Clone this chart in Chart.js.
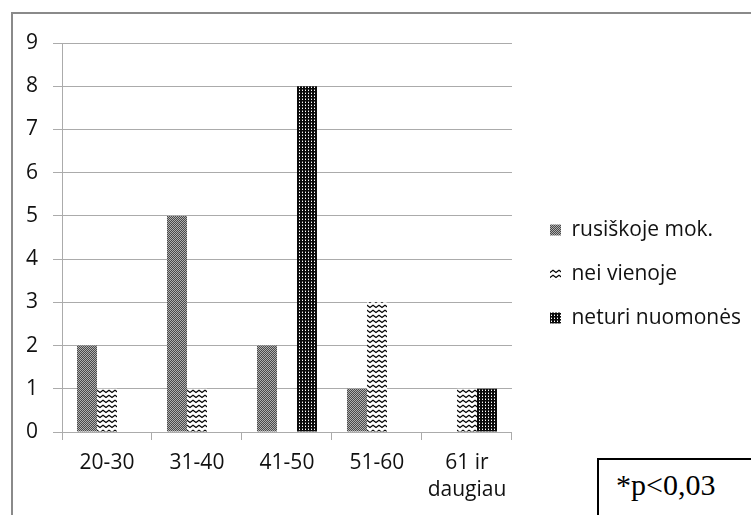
<!DOCTYPE html>
<html>
<head>
<meta charset="utf-8">
<script src="https://cdn.jsdelivr.net/npm/chart.js@4"></script>
<style>
    html, body { margin: 0; padding: 0; background: #fff; overflow: hidden; }
    body { width: 751px; height: 515px; position: relative; }
    #frame {
        position: absolute; left: 11px; top: 12px;
        width: 760px; height: 540px;
        border-left: 2px solid #8a8a8a; border-top: 2px solid #8a8a8a;
    }
    #chart { position: absolute; left: 0; top: 0; }
    #pbox {
        position: absolute; left: 597px; top: 458px;
        width: 200px; height: 100px;
        border: 2px solid #000; background: #fff;
    }
    #pbox span {
        position: absolute; left: 17px; top: 10px;
        font-family: "Liberation Serif", serif; font-size: 30px; line-height: 30px;
        color: #000; white-space: nowrap;
    }
</style>
</head>
<body>
<div id="frame"><canvas id="chart" width="738" height="520"></canvas></div>
<div id="pbox"><span>*p&lt;0,03</span></div>
<script>
const categories = ['20-30', '31-40', '41-50', '51-60', ['61 ir', 'daugiau']];
const rusiskoje = [2, 5, 2, 1, 0];
const neiVienoje = [1, 1, 0, 3, 1];
const neturi = [0, 0, 8, 0, 1];
const seriesNames = ['rusiškoje mok.', 'nei vienoje', 'neturi nuomonės'];
const yMax = 9;

const font = { family: '"Open Sans", sans-serif', size: 21 };
const textColor = '#111';
const lineColor = '#ababab';
const plotRight = 499; // right edge of the plot area in canvas px

//* hatch patterns like the excel fills
function makePattern(w, h, draw) {
    const c = document.createElement('canvas');
    c.width = w;
    c.height = h;
    const g = c.getContext('2d');
    draw(g);
    return document.getElementById('chart').getContext('2d').createPattern(c, 'repeat');
}

const checkerGray = makePattern(2, 2, g => {
    g.fillStyle = '#b0b0b0';
    g.fillRect(0, 0, 2, 2);
    g.fillStyle = '#4a4a4a';
    g.fillRect(0, 0, 1, 1);
    g.fillRect(1, 1, 1, 1);
});

const waves = makePattern(6, 5, g => {
    g.fillStyle = '#fff';
    g.fillRect(0, 0, 6, 5);
    g.strokeStyle = '#000';
    g.lineWidth = 1.3;
    g.beginPath();
    g.moveTo(-1, 0.5);
    g.lineTo(3, 3.5);
    g.lineTo(7, 0.5);
    g.stroke();
});

const darkDots = makePattern(3, 3, g => {
    g.fillStyle = '#0a0a0a';
    g.fillRect(0, 0, 3, 3);
    g.fillStyle = '#ffffff';
    g.fillRect(1, 1, 1, 1);
    g.fillStyle = '#666';
    g.fillRect(1, 0, 1, 1);
});

const data = {
    labels: categories,
    datasets: [{
        label: seriesNames[0],
        data: rusiskoje,
        backgroundColor: checkerGray,
        borderWidth: 0
    }, {
        label: seriesNames[1],
        data: neiVienoje,
        backgroundColor: waves,
        borderWidth: 0
    }, {
        label: seriesNames[2],
        data: neturi,
        backgroundColor: darkDots,
        borderWidth: 0
    }]
};

const config = {
    type: 'bar',
    data: data,
    options: {
        responsive: false,
        animation: false,
        categoryPercentage: 0.667,
        barPercentage: 1,
        layout: { padding: { left: 0, right: 0, top: 0, bottom: 0 } },
        scales: {
            x: {
                position: 'bottom',
                grid: { offset: true, drawOnChartArea: false, color: lineColor, tickLength: 8 },
                border: { color: lineColor },
                ticks: { color: textColor, font: { ...font, lineHeight: 1.3 }, padding: 9, maxRotation: 0, autoSkip: false },
                afterFit: s => { s.height = 102; }
            },
            x2: {
                type: 'category',
                axis: 'x',
                position: 'top',
                grid: { display: false },
                border: { display: false },
                ticks: { display: false },
                afterFit: s => { s.height = 29; }
            },
            y: {
                min: 0,
                max: yMax,
                ticks: { stepSize: 1, color: textColor, font: font, padding: 15 },
                grid: { color: lineColor, tickLength: 9 },
                border: { color: lineColor },
                afterFit: s => { s.width = 49; }
            },
            y2: {
                type: 'linear',
                axis: 'y',
                position: 'right',
                grid: { display: false },
                border: { display: false },
                ticks: { display: false },
                afterFit: s => { s.width = 15; }
            }
        },
        plugins: {
            legend: {
                position: 'right',
                maxWidth: 320,
                labels: {
                    boxWidth: 11,
                    boxHeight: 11,
                    padding: 23,
                    color: textColor,
                    font: font
                }
            },
            tooltip: { enabled: false }
        }
    }
};

const myChart = new Chart(document.getElementById('chart'), config);

// push the legend so the plot area ends where the reference one does
const extra = myChart.chartArea.right - plotRight;
if (extra !== 0) {
    myChart.options.layout.padding.right = Math.max(0, extra);
    myChart.update();
}
</script>
</body>
</html>
